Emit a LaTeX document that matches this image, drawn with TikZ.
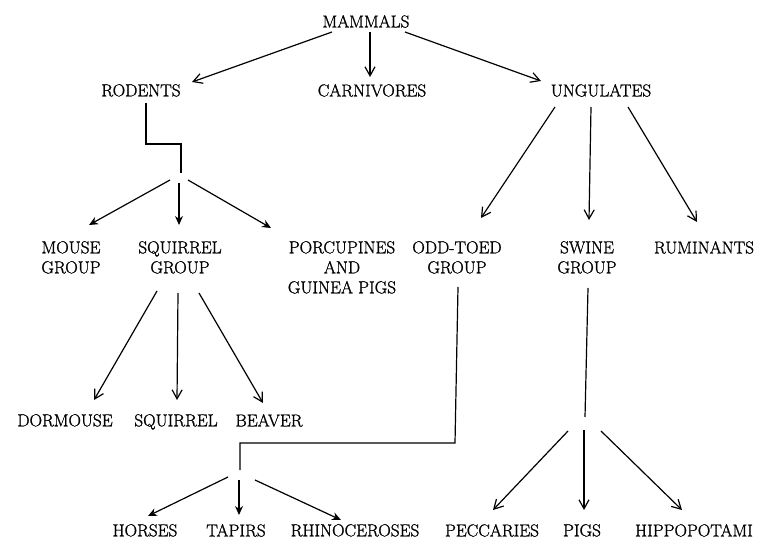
\documentclass[tikz,border=0pt]{standalone}
\usepackage{fontspec}
\setmainfont{Latin Modern Roman}[BoldFont={Latin Modern Roman},BoldFeatures={FakeBold=1.2}]
\usetikzlibrary{arrows.meta}
\begin{document}
\begin{tikzpicture}[x=1pt,y=-1pt,
  lbl/.style={anchor=north,inner sep=0pt,align=center,font=\fontsize{17.3}{20}\selectfont\bfseries},
  ln/.style={line width=1.2pt},
  barb/.style={ln,-{Straight Barb[length=9pt,width=10pt,line width=1.2pt]}},
  solid head/.style={ln,-{Stealth[length=9pt,width=8pt]}}]
\useasboundingbox (0,0) rectangle (760,540);
% nodes
\node[lbl] (mam) at (366,15) {MAMMALS};
\node[lbl] (rod) at (141,84) {RODENTS};
\node[lbl] (car) at (372,84) {CARNIVORES};
\node[lbl] (ung) at (601,84) {UNGULATES};
\node[lbl] (mouse) at (71,241) {MOUSE\\GROUP};
\node[lbl] (sqg) at (180,241) {SQUIRREL\\GROUP};
\node[lbl] (por) at (342,241) {PORCUPINES\\AND\\GUINEA PIGS};
\node[lbl] (odd) at (457,241) {ODD-TOED\\GROUP};
\node[lbl] (swine) at (587,241) {SWINE\\GROUP};
\node[lbl] (rum) at (704,241) {RUMINANTS};
\node[lbl] (dor) at (65,414) {DORMOUSE};
\node[lbl] (squ) at (176,414) {SQUIRREL};
\node[lbl] (bea) at (269,414) {BEAVER};
\node[lbl] (hor) at (145,524) {HORSES};
\node[lbl] (tap) at (236,524) {TAPIRS};
\node[lbl] (rhi) at (355,524) {RHINOCEROSES};
\node[lbl] (pec) at (492,524) {PECCARIES};
\node[lbl] (pig) at (582,524) {PIGS};
\node[lbl] (hip) at (694,524) {HIPPOPOTAMI};
% junctions
\coordinate (rj1) at (146,144);
\coordinate (rj2) at (181,144);
\coordinate (rj) at (181,173);
\coordinate (oj1) at (455,443);
\coordinate (oj2) at (240,443);
\coordinate (oj) at (240,470);
\coordinate (sj) at (585,417);
% mammals
\draw[barb] ([shift={(-34,17)}]mam.north) -- ([shift={(51,-2)}]rod.north);
\draw[barb] ([shift={(4,17)}]mam.north) -- ([shift={(-2,-7)}]car.north);
\draw[barb] ([shift={(39,17)}]mam.north) -- ([shift={(-60,-3)}]ung.north);
% rodents
\draw[ln] ([shift={(5,19)}]rod.north) -- (rj1) -- (rj2) -- (rj);
\draw[solid head] ([shift={(-11,7)}]rj) -- ([shift={(18,-16)}]mouse.north);
\draw[solid head] ([shift={(-2,10)}]rj) -- ([shift={(-1,-16)}]sqg.north);
\draw[solid head] ([shift={(7,7)}]rj) -- ([shift={(-71,-13)}]por.north);
% squirrel group
\draw[barb] ([shift={(-23,50)}]sqg.north) -- ([shift={(29,-14)}]dor.north);
\draw[barb] ([shift={(-2,52)}]sqg.north) -- ([shift={(1,-14)}]squ.north);
\draw[barb] ([shift={(19,52)}]sqg.north) -- ([shift={(-6,-11)}]bea.north);
% ungulates
\draw[barb] ([shift={(-46,23)}]ung.north) -- ([shift={(24,-23)}]odd.north);
\draw[barb] ([shift={(-10,23)}]ung.north) -- ([shift={(2,-21)}]swine.north);
\draw[barb] ([shift={(27,23)}]ung.north) -- ([shift={(-7,-19)}]rum.north);
% odd-toed
\draw[ln] ([shift={(1,46)}]odd.north) -- (oj1) -- (oj2) -- (oj);
\draw[solid head] ([shift={(-12,7)}]oj) -- ([shift={(3,-8)}]hor.north);
\draw[solid head] ([shift={(-1,10)}]oj) -- ([shift={(3,-9)}]tap.north);
\draw[solid head] ([shift={(15,10)}]oj) -- ([shift={(-14,-4)}]rhi.north);
% swine
\draw[ln] ([shift={(1,47)}]swine.north) -- (sj);
\draw[barb] ([shift={(-17,14)}]sj) -- ([shift={(1,-14)}]pec.north);
\draw[barb] ([shift={(-1,13)}]sj) -- ([shift={(2,-14)}]pig.north);
\draw[barb] ([shift={(16,14)}]sj) -- ([shift={(-12,-14)}]hip.north);
\end{tikzpicture}
\end{document}
